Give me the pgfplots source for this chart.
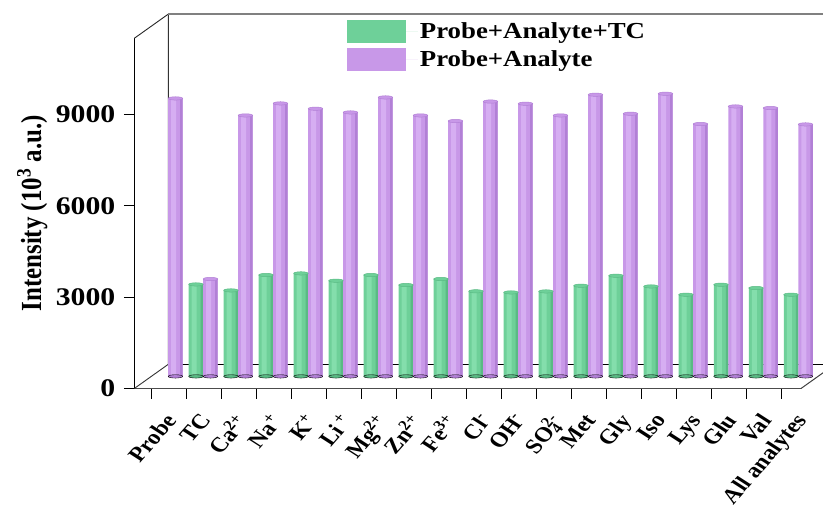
\documentclass[border=0pt]{standalone}
\usepackage{pgfplots}
\pgfplotsset{compat=1.18}
\usepackage{pgfplotstable}
\usepackage{fontspec}
\setmainfont{Liberation Serif}[FakeStretch=1.17]
\newfontfamily\plainserif{Liberation Serif}
\definecolor{gr}{RGB}{110,208,153}
\definecolor{grd}{RGB}{90,186,132}
\definecolor{grl}{RGB}{132,222,172}
\definecolor{pu}{RGB}{200,152,232}
\definecolor{pud}{RGB}{178,128,214}
\definecolor{pul}{RGB}{214,174,242}

\pgfplotstableread{
x gz green purple
0  nan nan  9135
1  0 3023 3201
2  0 2826 8576
3  0 3332 8971
4  0 3385 8797
5  0 3145 8675
6  0 3332 9168
7  0 3003 8576
8  0 3201 8392
9  0 2796 9032
10 0 2760 8961
11 0 2793 8576
12 0 2980 9257
13 0 3309 8632
14 0 2957 9289
15 0 2685 8294
16 0 3013 8872
17 0 2905 8820
18 0 2685 8281
}\data

\begin{document}
\begin{tikzpicture}
\useasboundingbox (0,0) rectangle (823bp,507bp);
\begin{axis}[name=front,
 at={(134.3bp,118.5bp)}, anchor=south west,
 scale only axis, width=666.7bp, height=350.2bp,
 xmin=-0.497, xmax=18.55, ymin=0, ymax=11508,
 axis x line*=bottom, axis y line*=left,
 x axis line style={line width=1.3bp, black!70},
 y axis line style={line width=1bp, black},
 tick align=outside, major tick length=10.5bp,
 tick style={line width=1bp, black},
 scaled y ticks=false,
 xtick={0,...,18},
 xticklabels={Probe,TC,Ca\textsuperscript{2+},Na\textsuperscript{+},K\textsuperscript{+},Li\textsuperscript{ +},Mg\textsuperscript{2+},Zn\textsuperscript{2+},Fe\textsuperscript{3+},Cl\textsuperscript{-},OH\textsuperscript{-},SO\rlap{\textsubscript{4}}\textsuperscript{2-},Met,Gly,Iso,Lys,Glu,Val,All analytes},
 xticklabel style={font=\plainserif\fontsize{21}{22}\selectfont\bfseries, xshift=12bp, yshift=-13bp, xscale=1.17, rotate=53, anchor=north east, inner sep=0pt},
 ytick={0,3000,6000,9000}, yticklabels={0,3000,6000,9000},
 yticklabel style={font=\fontsize{25.5}{27}\selectfont\bfseries, xshift=-5bp},
 ylabel={Intensity (10\textsuperscript{3} a.u.)},
 every axis y label/.style={font=\plainserif\fontsize{25}{27}\selectfont\bfseries, at={(axis description cs:-0.153,0.5)}, anchor=center, xscale=1.17, rotate=90},
 clip=false,
 legend style={draw=none, fill=none, at={(axis description cs:0.3186,1.0523)}, anchor=north west, inner sep=0pt, row sep=5bp, font=\fontsize{23}{26}\selectfont\bfseries},
 legend cell align=left,
 legend image code/.code={\fill[#1, draw=none] (0bp,-11.35bp) rectangle (59bp,11.35bp); \path (0bp,0bp) -- (71bp,0bp);},
]
\addlegendimage{draw=none, fill=gr}
\addlegendentry{Probe+Analyte+TC}
\addlegendimage{draw=none, fill=pu}
\addlegendentry{Probe+Analyte}
\end{axis}
% pseudo-3D frame
\draw[black!80, line width=0.9bp] (front.south west) -- ++(34bp,24.2bp) -- ++(0,350.2bp);
\draw[black!85, line width=0.9bp] (front.north west) -- ++(34bp,24.2bp);
\draw[gray, line width=1.2bp] ([shift={(34bp,24.2bp)}]front.north west) -- ++(700bp,0);
\draw[black, line width=0.6bp] ([shift={(34bp,24.2bp)}]front.south west) -- ++(700bp,0);
\draw[black!75, line width=1bp] (front.south east) -- ++(34bp,24.2bp);

\begin{axis}[
 at={(150.8bp,130.6bp)}, anchor=south west,
 scale only axis, width=666.7bp, height=350.2bp,
 xmin=-0.497, xmax=18.55, ymin=0, ymax=11508,
 hide axis, clip=false, unbounded coords=discard]
% green cylinders
\addplot[only marks, mark=*, mark size=7.25bp, mark options={yscale=0.23, fill=grd, draw=none}] table[x expr=\thisrow{x}-0.2071, y=gz] \data;
\addplot[ybar, bar width=14.5bp, bar shift=-7.25bp, draw=none, fill=gr] table[x=x, y=green] \data;
\addplot[ybar, bar width=5bp, bar shift=-9bp, draw=none, fill=grl] table[x=x, y=green] \data;
\addplot[ybar, bar width=2.5bp, bar shift=-1.25bp, draw=none, fill=grd] table[x=x, y=green] \data;
\addplot[only marks, mark=*, mark size=7.25bp, mark options={yscale=0.23, fill=gr, draw=grd, line width=0.5bp}] table[x expr=\thisrow{x}-0.2071, y=green] \data;
% purple cylinders
\addplot[only marks, mark=*, mark size=7.25bp, mark options={yscale=0.23, fill=pud, draw=none}] table[x expr=\thisrow{x}+0.2071, y=gz] \data;
\addplot[only marks, mark=*, mark size=7.25bp, mark options={yscale=0.23, fill=pud, draw=none}] coordinates {(0.2071,0)};
\addplot[ybar, bar width=14.5bp, bar shift=7.25bp, draw=none, fill=pu] table[x=x, y=purple] \data;
\addplot[ybar, bar width=5bp, bar shift=5.5bp, draw=none, fill=pul] table[x=x, y=purple] \data;
\addplot[ybar, bar width=2.5bp, bar shift=13.25bp, draw=none, fill=pud] table[x=x, y=purple] \data;
\addplot[only marks, mark=*, mark size=7.25bp, mark options={yscale=0.23, fill=pu, draw=pud, line width=0.5bp}] table[x expr=\thisrow{x}+0.2071, y=purple] \data;
\end{axis}
\end{tikzpicture}
\end{document}
